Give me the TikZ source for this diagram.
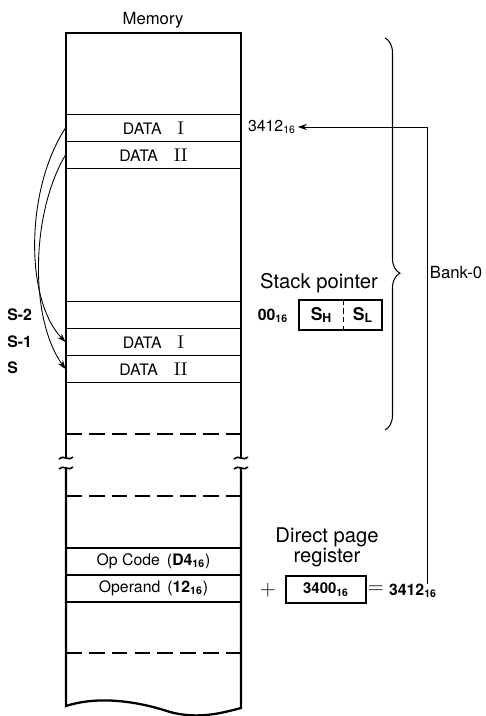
\documentclass[tikz,border=0pt]{standalone}
\usepackage{fontspec}
\setsansfont{TeX Gyre Heros}
\usetikzlibrary{arrows.meta, positioning, decorations.pathreplacing, calc}
\newcommand{\hex}[1]{#1\textsubscript{16}}
\newcommand{\rn}[1]{{\rmfamily\fontsize{10.5}{12}\selectfont #1}}
\tikzset{
  every node/.style={font=\sffamily},
  cell/.style={
    draw,
    line width=0.6pt,
    minimum width=3.5cm,
    minimum height=0.54cm,
    inner sep=0pt,
    font=\sffamily\fontsize{9}{10}\selectfont
  },
  side/.style={line width=1.3pt},
  gapline/.style={line width=0.6pt, dash pattern=on 9pt off 4pt},
  lbl/.style={font=\sffamily\bfseries\fontsize{9}{11}\selectfont, inner sep=0pt},
  big/.style={font=\sffamily\fontsize{11.5}{13}\selectfont, inner sep=0pt},
  reg/.style={draw, line width=0.6pt, inner sep=0pt},
  push/.style={-{Stealth[length=5pt,width=3.5pt]}, line width=0.5pt}
}
\begin{document}
\begin{tikzpicture}[x=0.02cm, y=-0.02cm]
  \useasboundingbox (0,0) rectangle (485,716);
  \node[font=\sffamily\fontsize{9.5}{11}\selectfont] (mem) at (153,20) {Memory};

  \node[cell] (d1) at (153.5,128) {DATA\quad\rn{I}};
  \node[cell] (d2) at (153.5,155) {DATA\quad\rn{II}};
  \node[cell] (s2) at (153.5,315) {};
  \node[cell] (s1) at (153.5,342) {DATA\quad\rn{I}};
  \node[cell] (s0) at (153.5,369) {DATA\quad\rn{II}};
  \node[cell] (op) at (153.5,561.5) {Op Code\ \,(\textbf{\hex{D4}})};
  \node[cell] (opd) at (153.5,588.5) {Operand\ \,(\textbf{\hex{12}})};

  \draw[side] (66,459) -- (66,33) -- (241,33) -- (241,459);
  \draw[side] (66,467) -- (66,706) .. controls (100,695) and (140,702) .. (170,712)
    .. controls (200,720) and (225,712) .. (241,708) -- (241,467);
  \foreach \x in {66,241} {
    \draw[line width=0.9pt] (\x-7,459) .. controls (\x-3,454) and (\x+3,462) .. (\x+7,457);
    \draw[line width=0.9pt] (\x-7,469) .. controls (\x-3,464) and (\x+3,472) .. (\x+7,467);
  }
  \foreach \y in {434,496,653}
    \draw[gapline] (66,\y) -- (241,\y);

  \node[lbl, anchor=west] (lm2) at (7,315) {S-2};
  \node[lbl, anchor=west] (lm1) at (7,342) {S-1};
  \node[lbl, anchor=west] (ls) at (7,368) {S};

  \draw[push] (d1.west) .. controls (25,190) and (25,300) .. (s1.west);
  \draw[push] (d2.west) .. controls (30,215) and (30,320) .. (s0.west);

  \node[font=\sffamily\fontsize{9}{11}\selectfont, inner sep=1pt] (addr) at (272,127) {\hex{3412}};

  \node[big] (sptxt) at (319,283) {Stack pointer};
  \node[lbl] (bank) at (273,316) {\hex{00}};
  \node[reg, minimum width=1.66cm, minimum height=0.6cm] (sp) at (340.5,315) {};
  \draw[line width=0.6pt, dash pattern=on 3pt off 2pt]
    ($(sp.north west)!0.54!(sp.north east)$) -- ($(sp.south west)!0.54!(sp.south east)$);
  \node[font=\sffamily\bfseries\fontsize{10}{12}\selectfont] (sh) at (321.5,315) {S\textsubscript{H}};
  \node[font=\sffamily\bfseries\fontsize{10}{12}\selectfont] (sl) at (363,315) {S\textsubscript{L}};

  \draw[decorate, decoration={brace, amplitude=8.5pt, aspect=0.6}, line width=0.6pt]
    (385,38) -- (385,430);
  \node[font=\sffamily\fontsize{9.5}{11}\selectfont] (bk) at (456,273) {Bank-0};

  \node[big] (dp1) at (327,537) {Direct page};
  \node[big] (dp2) at (327,558) {register};
  \node[inner sep=0pt, font=\fontsize{13}{13}\selectfont] (plus) at (268,590) {$+$};
  \node[reg, minimum width=1.6cm, minimum height=0.54cm,
        font=\sffamily\bfseries\fontsize{8.5}{10}\selectfont] (dpr) at (326,589.5) {\hex{3400}};
  \node[inner sep=0pt, font=\fontsize{12}{12}\selectfont] (eq) at (376,590) {$=$};
  \node[lbl] (res) at (413,591) {\hex{3412}};
  \coordinate (tap) at (427,0);

  \draw[push] (res.north -| tap) |- (addr.east);
\end{tikzpicture}
\end{document}
